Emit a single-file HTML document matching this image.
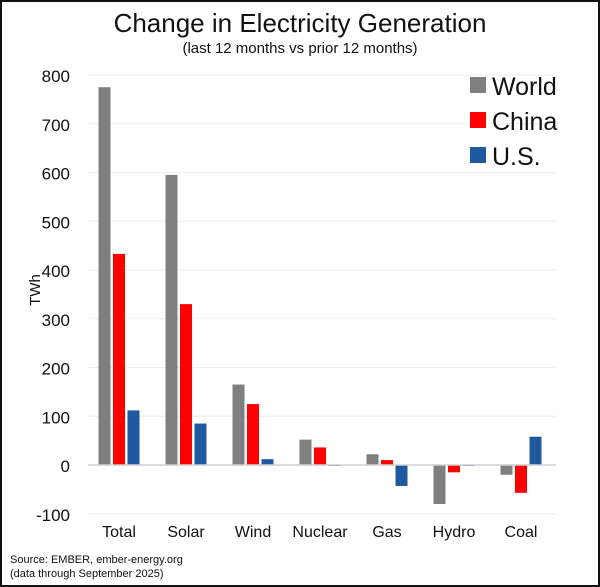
<!DOCTYPE html>
<html><head><meta charset="utf-8"><style>
body{margin:0;background:#fff}
#c{position:relative;width:600px;height:587px;box-sizing:border-box;border:2px solid #111;font-family:"Liberation Sans",sans-serif;overflow:hidden}
</style></head><body>
<div id="c">
<svg id="s" width="596" height="583" viewBox="2 2 596 583">
<text x="300" y="32" text-anchor="middle" font-size="26" fill="#111">Change in Electricity Generation</text>
<text x="300" y="53" text-anchor="middle" font-size="15" fill="#111">(last 12 months vs prior 12 months)</text>
<text transform="translate(40,290) rotate(-90)" text-anchor="middle" font-size="15" fill="#111">TWh</text>
<text x="10" y="563" font-size="11" fill="#111">Source: EMBER, ember-energy.org</text>
<text x="10" y="577" font-size="11" fill="#111">(data through September 2025)</text>
<g id="g"></g>
</svg>
</div>
<script>
const categories=["Total","Solar","Wind","Nuclear","Gas","Hydro","Coal"];
const seriesNames=["World","China","U.S."];
const world=[775,595,165,52,22,-80,-20];
const china=[433,330,125,36,10,-15,-57];
const us=[112,85,12,-2,-43,0,58];
const yTicks=[800,700,600,500,400,300,200,100,0,-100];
const colors=["#7f7f7f","#ff0000","#1f5aa0"];
const NS="http://www.w3.org/2000/svg";
const g=document.getElementById('g');
function y(v){return 465-v*0.4875;}
function xc(i){return 119+i*67;}
function mk(t,a){const e=document.createElementNS(NS,t);for(const k in a)e.setAttribute(k,a[k]);g.appendChild(e);return e;}
yTicks.forEach(v=>{
 if(v!==0){const l=mk('line',{x1:88,x2:556,y1:y(v),y2:y(v),stroke:'#eeeeee','stroke-width':1});
 
 }
 const t=mk('text',{x:70,y:y(v)+7,'text-anchor':'end','font-size':17,fill:'#111'});t.textContent=v;
 
 
});
const series=[world,china,us];
series.forEach((arr,si)=>{
 arr.forEach((v,i)=>{
  const x=xc(i)+(si-1)*14.5-6;
  const y0=Math.min(y(v),y(0)),h=Math.max(Math.abs(y(v)-y(0)),1);
  const r=mk('rect',{x:x,y:y0,width:12,height:h,fill:colors[si]});
  
  
 });
});
const z=mk('line',{x1:88,x2:556,y1:y(0),y2:y(0),stroke:'#d0d0d0','stroke-width':1.5});


categories.forEach((c,i)=>{
 const t=mk('text',{x:xc(i),y:537,'text-anchor':'middle','font-size':16,fill:'#111'});t.textContent=c;
 
 
});
seriesNames.forEach((n,i)=>{
 const r=mk('rect',{x:470,y:77+i*35,width:16,height:16,fill:colors[i]});
 
 
 const t=mk('text',{x:492,y:95+i*35,'font-size':25,fill:'#111'});t.textContent=n;
 
 
});
</script>
</body></html>
